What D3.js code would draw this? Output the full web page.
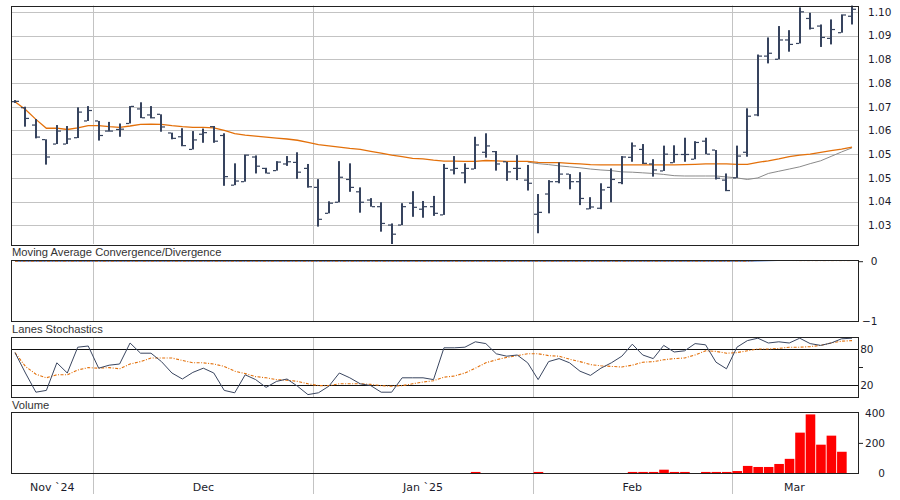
<!DOCTYPE html>
<html>
<head>
<meta charset="utf-8">
<script src="https://cdn.jsdelivr.net/npm/d3@7"></script>
<style>
  body { margin: 0; background: #fff; }
</style>
</head>
<body>
<div id="chart"></div>
<script>
// months shown on the time axis and how many trading bars fall in each
const monthLabels = ['Nov `24', 'Dec', 'Jan `25', 'Feb', 'Mar'];
const monthBarCounts = [8, 21, 21, 19, 12];

// daily OHLC
const openValues = [
  1.0691, 1.0672, 1.0617, 1.0571, 1.0557, 1.0557, 1.0577, 1.0630, 1.0630, 1.0598,
  1.0603, 1.0622, 1.0668, 1.0649, 1.0651, 1.0592, 1.0580, 1.0540, 1.0588, 1.0612,
  1.0584, 1.0427, 1.0438, 1.0516, 1.0480, 1.0473, 1.0494, 1.0499, 1.0480, 1.0420,
  1.0338, 1.0373, 1.0445, 1.0406, 1.0380, 1.0359, 1.0301, 1.0301, 1.0370, 1.0351,
  1.0359, 1.0333, 1.0475, 1.0466, 1.0478, 1.0531, 1.0533, 1.0501, 1.0480, 1.0443,
  1.0335, 1.0399, 1.0438, 1.0462, 1.0438, 1.0352, 1.0354, 1.0420, 1.0435, 1.0515,
  1.0540, 1.0494, 1.0472, 1.0498, 1.0524, 1.0509, 1.0566, 1.0538, 1.0443, 1.0450,
  1.0531, 1.0649, 1.0835, 1.0825, 1.0886, 1.0875, 1.0954, 1.0930, 1.0891, 1.0909,
  1.0961
];
const highValues = [
  1.0696, 1.0675, 1.0636, 1.0572, 1.0617, 1.0614, 1.0673, 1.0677, 1.0630, 1.0627,
  1.0622, 1.0677, 1.0689, 1.0677, 1.0651, 1.0593, 1.0607, 1.0598, 1.0606, 1.0614,
  1.0591, 1.0496, 1.0524, 1.0521, 1.0482, 1.0503, 1.0519, 1.0531, 1.0494, 1.0446,
  1.0376, 1.0503, 1.0496, 1.0420, 1.0386, 1.0373, 1.0306, 1.0370, 1.0408, 1.0377,
  1.0393, 1.0494, 1.0519, 1.0496, 1.0580, 1.0591, 1.0535, 1.0501, 1.0522, 1.0491,
  1.0399, 1.0443, 1.0499, 1.0462, 1.0468, 1.0389, 1.0433, 1.0480, 1.0519, 1.0562,
  1.0557, 1.0509, 1.0552, 1.0553, 1.0577, 1.0566, 1.0577, 1.0538, 1.0464, 1.0552,
  1.0670, 1.0840, 1.0894, 1.0930, 1.0917, 1.0989, 1.0972, 1.0935, 1.0951, 1.0967,
  1.0996
];
const lowValues = [
  1.0687, 1.0612, 1.0575, 1.0492, 1.0557, 1.0557, 1.0576, 1.0630, 1.0568, 1.0596,
  1.0580, 1.0622, 1.0639, 1.0638, 1.0596, 1.0572, 1.0550, 1.0540, 1.0561, 1.0561,
  1.0425, 1.0427, 1.0438, 1.0464, 1.0464, 1.0473, 1.0488, 1.0447, 1.0419, 1.0296,
  1.0338, 1.0373, 1.0406, 1.0340, 1.0359, 1.0280, 1.0240, 1.0301, 1.0327, 1.0324,
  1.0330, 1.0333, 1.0461, 1.0433, 1.0478, 1.0514, 1.0473, 1.0441, 1.0443, 1.0410,
  1.0275, 1.0338, 1.0433, 1.0414, 1.0364, 1.0351, 1.0351, 1.0373, 1.0430, 1.0501,
  1.0494, 1.0454, 1.0472, 1.0498, 1.0501, 1.0509, 1.0525, 1.0445, 1.0408, 1.0450,
  1.0517, 1.0645, 1.0812, 1.0825, 1.0849, 1.0875, 1.0919, 1.0864, 1.0872, 1.0909,
  1.0935
];
const closeValues = [
  1.0692, 1.0638, 1.0579, 1.0516, 1.0598, 1.0573, 1.0658, 1.0663, 1.0584, 1.0598,
  1.0604, 1.0676, 1.0640, 1.0640, 1.0611, 1.0575, 1.0552, 1.0570, 1.0593, 1.0566,
  1.0454, 1.0440, 1.0522, 1.0487, 1.0465, 1.0500, 1.0501, 1.0468, 1.0422, 1.0319,
  1.0370, 1.0452, 1.0420, 1.0373, 1.0359, 1.0306, 1.0272, 1.0359, 1.0357, 1.0359,
  1.0338, 1.0480, 1.0480, 1.0480, 1.0554, 1.0551, 1.0494, 1.0469, 1.0480, 1.0433,
  1.0341, 1.0438, 1.0462, 1.0438, 1.0385, 1.0358, 1.0412, 1.0445, 1.0516, 1.0551,
  1.0496, 1.0475, 1.0525, 1.0524, 1.0524, 1.0562, 1.0525, 1.0449, 1.0410, 1.0519,
  1.0645, 1.0835, 1.0844, 1.0886, 1.0872, 1.0975, 1.0923, 1.0894, 1.0919, 1.0965,
  1.0983
];

// moving averages drawn over the bars
const maOrange = [
  1.0691, 1.0666, 1.0635, 1.0607, 1.0607, 1.0603, 1.0608, 1.0615, 1.0615, 1.0612,
  1.0610, 1.0614, 1.0619, 1.0620, 1.0619, 1.0615, 1.0612, 1.0610, 1.0610, 1.0608,
  1.0600, 1.0590, 1.0585, 1.0582, 1.0579, 1.0576, 1.0573, 1.0569, 1.0562, 1.0555,
  1.0551, 1.0547, 1.0543, 1.0540, 1.0534, 1.0528, 1.0522, 1.0517, 1.0512, 1.0510,
  1.0506, 1.0503, 1.0503, 1.0502, 1.0502, 1.0505, 1.0504, 1.0502, 1.0502, 1.0502,
  1.0499, 1.0498, 1.0498, 1.0496, 1.0494, 1.0492, 1.0491, 1.0491, 1.0491, 1.0491,
  1.0491, 1.0491, 1.0491, 1.0491, 1.0492, 1.0493, 1.0494, 1.0494, 1.0494, 1.0493,
  1.0493, 1.0499, 1.0504, 1.0510, 1.0517, 1.0522, 1.0525, 1.0531, 1.0536, 1.0541,
  1.0547
];
const maGrayStart = 49;
const maGray = [
  1.0500, 1.0495, 1.0492, 1.0488, 1.0485, 1.0482, 1.0478, 1.0475, 1.0473, 1.0469,
  1.0468, 1.0466, 1.0464, 1.0461, 1.0457, 1.0456, 1.0456, 1.0456, 1.0456, 1.0453,
  1.0450, 1.0445, 1.0450, 1.0464, 1.0471, 1.0478, 1.0485, 1.0495, 1.0504, 1.0518,
  1.0532, 1.0545
];

// MACD panel (practically flat at zero on this scale)
const macdValues = [
  0, 0, 0, 0, 0, 0, 0, 0, 0, 0,
  0, 0, 0, 0, 0, 0, 0, 0, 0, 0,
  0, 0, 0, 0, 0, 0, 0, 0, 0, 0,
  0, 0, 0, 0, 0, 0, 0, 0, 0, 0,
  0, 0, 0, 0, 0, 0, 0, 0, 0, 0,
  0, 0, 0, 0, 0, 0, 0, 0, 0, 0,
  0, 0, 0, 0, 0, 0, 0, 0, 0, 0,
  0, 0.004, 0.008, 0.012, 0.014, 0.016, 0.018, 0.018, 0.018, 0.02,
  0.02
];
const signalValues = [
  0, 0, 0, 0, 0, 0, 0, 0, 0, 0,
  0, 0, 0, 0, 0, 0, 0, 0, 0, 0,
  0, 0, 0, 0, 0, 0, 0, 0, 0, 0,
  0, 0, 0, 0, 0, 0, 0, 0, 0, 0,
  0, 0, 0, 0, 0, 0, 0, 0, 0, 0,
  0, 0, 0, 0, 0, 0, 0, 0, 0, 0,
  0, 0, 0, 0, 0, 0, 0, 0, 0, 0,
  0, 0.015, 0.02, 0.02, 0.012, 0.01, 0.01, 0.01, 0.01, 0.01,
  0.01
];

// Lane's stochastic %K and %D
const stochK = [
  74, 40, 8, 11, 57, 40, 83, 85, 48, 53,
  55, 90, 73, 73, 59, 40, 30, 41, 48, 40,
  11, 7, 37, 29, 16, 26, 30, 18, 4, 7,
  18, 40, 32, 22, 19, 8, 8, 32, 32, 32,
  29, 82, 82, 83, 92, 89, 72, 68, 70, 57,
  29, 59, 64, 57, 43, 36, 48, 57, 68, 88,
  70, 64, 86, 75, 77, 89, 87, 58, 47, 83,
  94, 98, 90, 92, 90, 98, 89, 86, 90, 97,
  98
];
const stochD = [
  74, 51, 38, 32, 37, 37, 45, 49, 48, 49,
  47, 55, 59, 65, 65, 65, 61, 57, 57, 55,
  51, 43, 39, 34, 32, 29, 28, 26, 22, 19,
  19, 22, 22, 22, 21, 19, 18, 19, 22, 25,
  27, 33, 35, 40, 48, 57, 62, 66, 69, 72,
  72, 69, 68, 63, 59, 54, 52, 51, 50, 53,
  58, 59, 62, 64, 65, 70, 77, 76, 73, 74,
  77, 80, 80, 81, 83, 83, 84, 86, 90, 93,
  94
];

const volumeValues = [
  0, 0, 0, 0, 0, 0, 0, 0, 0, 0,
  0, 0, 0, 0, 0, 0, 0, 0, 0, 0,
  0, 0, 0, 0, 0, 0, 0, 0, 0, 0,
  0, 0, 0, 0, 0, 0, 0, 0, 0, 0,
  0, 0, 0, 0, 7, 0, 0, 0, 0, 0,
  7, 0, 0, 0, 0, 0, 0, 0, 0, 7,
  7, 7, 22, 7, 7, 0, 7, 7, 7, 13,
  47, 40, 40, 60, 94, 268, 389, 188, 248, 141,
  0
];

// axis ticks and their printed labels
const priceTicks = [1.03, 1.0375, 1.045, 1.0525, 1.06, 1.0675, 1.075, 1.0825, 1.09, 1.0975];
const priceTickLabels = ['1.03', '1.04', '1.05', '1.05', '1.06', '1.07', '1.08', '1.08', '1.09', '1.10'];
const macdTicks = [0, -1];
const stochTicks = [80, 20];
const stochMarkTicks = [50];
const volumeTicks = [0, 200, 400];
const volumeMarkTicks = [200];

const width = 900;
const height = 500;
const plotLeft = 11;
const plotRight = 858;
const panels = {
    price: { top: 5.5, bottom: 244 },
    macd: { top: 260, bottom: 321 },
    stoch: { top: 337, bottom: 397 },
    volume: { top: 412, bottom: 473 }
};
const axisBottom = 494;
const barColor = '#36435e';
const orange = '#e3700a';

const barCount = d3.sum(monthBarCounts);
const bars = d3.range(barCount).map(i => ({
    i, o: openValues[i], h: highValues[i], l: lowValues[i], c: closeValues[i]
}));
const monthStarts = Array.from(d3.cumsum([0, ...monthBarCounts]));

const svg = d3.select('#chart')
    .append('svg')
    .attr('width', width)
    .attr('height', height)
    .style('font-family', '"DejaVu Sans", Verdana, sans-serif');

svg.append('rect').attr('width', width).attr('height', height).attr('fill', '#fff');

const x = d3.scaleLinear()
    .domain([-0.38, barCount - 0.43])
    .range([plotLeft, plotRight]);

const yPrice = d3.scaleLinear().domain([1.0241, 1.0995]).range([panels.price.bottom, panels.price.top]);
const yMacd = d3.scaleLinear().domain([-1, 0.02]).range([panels.macd.bottom, panels.macd.top]);
const yStoch = d3.scaleLinear().domain([0, 100]).range([panels.stoch.bottom, panels.stoch.top]);
const yVolume = d3.scaleLinear().domain([0, 405]).range([panels.volume.bottom, panels.volume.top]);

const defs = svg.append('defs');
Object.entries(panels).forEach(([name, p]) => {
    defs.append('clipPath').attr('id', `clip-${name}`)
        .append('rect')
        .attr('x', plotLeft).attr('y', p.top)
        .attr('width', plotRight - plotLeft).attr('height', p.bottom - p.top);
});

// month boundaries -> vertical grid lines
const boundaries = monthStarts.slice(1, -1).map(s => x(s - 0.5));

function monthGrid(top, bottom) {
    svg.append('g')
        .selectAll('line')
        .data(boundaries)
        .join('line')
        .attr('x1', d => Math.round(d) + 0.5).attr('x2', d => Math.round(d) + 0.5)
        .attr('y1', top).attr('y2', bottom)
        .attr('stroke', '#c3c3c3')
        .attr('stroke-width', 1);
}

function frame(p) {
    svg.append('rect')
        .attr('x', plotLeft + 0.5).attr('y', Math.round(p.top) + 0.5)
        .attr('width', plotRight - plotLeft).attr('height', Math.round(p.bottom - p.top))
        .attr('fill', 'none')
        .attr('stroke', '#222')
        .attr('stroke-width', 1);
}

function title(text, baseline) {
    svg.append('text')
        .attr('x', 12).attr('y', baseline)
        .attr('fill', '#333')
        .style('font-family', '"Liberation Sans", Arial, sans-serif')
        .style('font-size', '11.2px')
        .text(text);
}

function rightAxis(scale, ticks, format, anchor, dx, fontSize) {
    const g = svg.append('g')
        .attr('transform', `translate(${plotRight}, 0)`)
        .call(d3.axisRight(scale).tickValues(ticks).tickSize(0).tickPadding(dx).tickFormat(format));
    g.select('.domain').remove();
    g.selectAll('text')
        .attr('text-anchor', anchor)
        .attr('fill', '#1b1b2b')
        .style('font-family', '"DejaVu Sans", Verdana, sans-serif')
        .style('font-size', fontSize);
}

function tickMarks(scale, ticks) {
    const g = svg.append('g')
        .attr('transform', `translate(${plotRight}, 0)`)
        .call(d3.axisRight(scale).tickValues(ticks).tickSize(5).tickFormat(''));
    g.select('.domain').remove();
    g.selectAll('line').attr('stroke', '#222');
}

// ---- price panel
const pricePanel = svg.append('g').attr('clip-path', 'url(#clip-price)');

pricePanel.append('g')
    .selectAll('line')
    .data(priceTicks)
    .join('line')
    .attr('x1', plotLeft).attr('x2', plotRight)
    .attr('y1', d => Math.round(yPrice(d)) + 0.5).attr('y2', d => Math.round(yPrice(d)) + 0.5)
    .attr('stroke', '#c3c3c3');

monthGrid(panels.price.top, panels.price.bottom);

const priceGroup = svg.append('g').attr('clip-path', 'url(#clip-price)');

priceGroup.append('path')
    .datum(maGray.map((v, k) => [maGrayStart + k, v]))
    .attr('fill', 'none')
    .attr('stroke', '#8a8a8a')
    .attr('stroke-width', 1)
    .attr('d', d3.line().x(d => x(d[0])).y(d => yPrice(d[1])));

priceGroup.append('path')
    .datum(maOrange)
    .attr('fill', 'none')
    .attr('stroke', orange)
    .attr('stroke-width', 1.3)
    .attr('d', d3.line().x((d, i) => x(i)).y(d => yPrice(d)));

const ohlc = priceGroup.append('g')
    .selectAll('g')
    .data(bars)
    .join('g')
    .attr('fill', barColor);

ohlc.append('rect')
    .attr('x', d => Math.round(x(d.i)) - 1)
    .attr('width', 2)
    .attr('y', d => yPrice(d.h))
    .attr('height', d => Math.max(1.2, yPrice(d.l) - yPrice(d.h)));

ohlc.append('rect')
    .attr('x', d => Math.round(x(d.i)) - 4)
    .attr('width', 3)
    .attr('y', d => yPrice(d.o) - 0.6)
    .attr('height', 1.2);

ohlc.append('rect')
    .attr('x', d => Math.round(x(d.i)) + 1)
    .attr('width', 3)
    .attr('y', d => yPrice(d.c) - 0.6)
    .attr('height', 1.2);

frame(panels.price);
rightAxis(yPrice, priceTicks, (d, i) => priceTickLabels[i], 'start', 10, '10.5px');

// ---- MACD panel
title('Moving Average Convergence/Divergence', 255.5);
monthGrid(panels.macd.top, panels.macd.bottom);

const macdGroup = svg.append('g').attr('clip-path', 'url(#clip-macd)');
macdGroup.append('path')
    .datum(macdValues)
    .attr('fill', 'none')
    .attr('stroke', '#2f62c4')
    .attr('stroke-width', 1)
    .attr('d', d3.line().x((d, i) => x(i)).y(d => yMacd(d)));
macdGroup.append('path')
    .datum(signalValues)
    .attr('fill', 'none')
    .attr('stroke', orange)
    .attr('stroke-width', 1)
    .attr('stroke-dasharray', '3,2,1,2')
    .attr('d', d3.line().x((d, i) => x(i)).y(d => yMacd(d)));

frame(panels.macd);
tickMarks(yMacd, [0]);
rightAxis(yMacd, macdTicks, d3.format('d'), 'end', 19.5, '10.5px');

// ---- stochastics panel
title('Lanes Stochastics', 332.5);
monthGrid(panels.stoch.top, panels.stoch.bottom);

const stochGroup = svg.append('g').attr('clip-path', 'url(#clip-stoch)');
stochGroup.append('g')
    .selectAll('line')
    .data(stochTicks)
    .join('line')
    .attr('x1', plotLeft).attr('x2', plotRight)
    .attr('y1', d => Math.round(yStoch(d)) + 0.5).attr('y2', d => Math.round(yStoch(d)) + 0.5)
    .attr('stroke', '#111');

stochGroup.append('path')
    .datum(stochD)
    .attr('fill', 'none')
    .attr('stroke', orange)
    .attr('stroke-width', 1.1)
    .attr('stroke-dasharray', '3,1.5,1,1.5')
    .attr('d', d3.line().x((d, i) => x(i)).y(d => yStoch(d)));

stochGroup.append('path')
    .datum(stochK)
    .attr('fill', 'none')
    .attr('stroke', '#3a4660')
    .attr('stroke-width', 1)
    .attr('d', d3.line().x((d, i) => x(i)).y(d => yStoch(d)));

frame(panels.stoch);
tickMarks(yStoch, stochMarkTicks);
rightAxis(yStoch, stochTicks, d3.format('d'), 'end', 15.5, '10.5px');

// ---- volume panel
title('Volume', 408.5);
monthGrid(panels.volume.top, axisBottom);

svg.append('g')
    .attr('clip-path', 'url(#clip-volume)')
    .selectAll('rect')
    .data(volumeValues.map((v, i) => ({ i, v })).filter(d => d.v > 0))
    .join('rect')
    .attr('x', d => x(d.i) - 4.5)
    .attr('width', 9.6)
    .attr('y', d => yVolume(d.v))
    .attr('height', d => yVolume(0) - yVolume(d.v))
    .attr('fill', '#ff0000');

frame(panels.volume);
tickMarks(yVolume, volumeMarkTicks);
rightAxis(yVolume, volumeTicks, d3.format('d'), 'end', 27, '10.5px');

// ---- month labels, centred in the visible part of each month
svg.append('g')
    .selectAll('text')
    .data(monthLabels)
    .join('text')
    .attr('x', (d, k) => {
        const a = Math.max(plotLeft, x(monthStarts[k] - 0.5));
        const b = Math.min(plotRight, x(monthStarts[k + 1] - 0.5));
        return (a + b) / 2;
    })
    .attr('y', 490.5)
    .attr('text-anchor', 'middle')
    .attr('fill', '#1b1b2b')
    .style('font-size', '11px')
    .text(d => d);
</script>
</body>
</html>
